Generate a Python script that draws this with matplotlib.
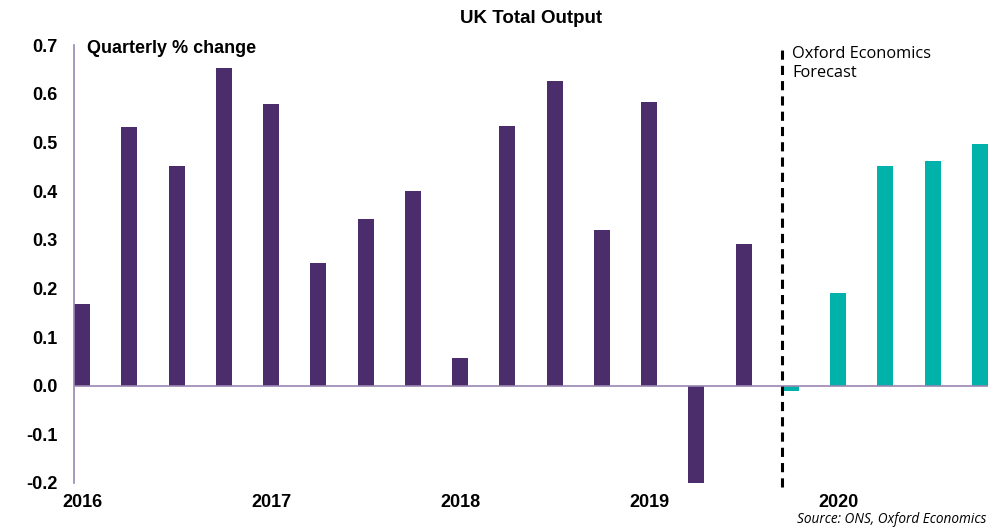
import matplotlib
matplotlib.use("Agg")
import matplotlib.pyplot as plt
import numpy as np

# Quarterly % change, 2016 Q1 - 2020 Q4
quarters = ["2016Q1", "2016Q2", "2016Q3", "2016Q4",
            "2017Q1", "2017Q2", "2017Q3", "2017Q4",
            "2018Q1", "2018Q2", "2018Q3", "2018Q4",
            "2019Q1", "2019Q2", "2019Q3", "2019Q4",
            "2020Q1", "2020Q2", "2020Q3", "2020Q4"]
values = [0.168, 0.532, 0.452, 0.652, 0.578, 0.252, 0.342, 0.400,
          0.056, 0.534, 0.626, 0.320, 0.582, -0.200, 0.291, -0.010,
          0.190, 0.452, 0.462, 0.496]
is_forecast = [False] * 15 + [True] * 5
year_labels = ["2016", "2017", "2018", "2019", "2020"]
year_positions = [0, 4, 8, 12, 16]

purple = "#4B2D6B"
teal = "#00B2A9"
spine_col = "#9A86B4"

fig = plt.figure(figsize=(10, 5.31), dpi=100)
ax = fig.add_axes([0.074, 0.0904, 0.914, 0.8248])

width = 0.34
x = np.arange(len(values))
colors = [teal if f else purple for f in is_forecast]
ax.bar(x, values, width=width, align="edge", color=colors, zorder=2)

ax.axhline(0, color=spine_col, lw=1.2, zorder=3)
ax.set_xlim(0, len(values) - 1 + width)
ax.set_ylim(-0.2, 0.7)

yt = np.arange(-0.2, 0.71, 0.1)
ax.set_yticks(yt)
ax.set_yticklabels([f"{v:.1f}" for v in yt], fontsize=13, fontweight="bold",
                   family="Liberation Sans")
ax.set_xticks([p + width / 2 for p in year_positions])
ax.set_xticklabels(year_labels, fontsize=13, fontweight="bold", family="Liberation Sans")
ax.tick_params(axis="both", length=0)
ax.tick_params(axis="y", pad=12)
ax.tick_params(axis="x", pad=8)

for s in ["top", "right", "bottom"]:
    ax.spines[s].set_visible(False)
ax.spines["left"].set_color(spine_col)
ax.spines["left"].set_linewidth(1.2)

# forecast divider
first_fc = is_forecast.index(True)
ax.plot([first_fc - 0.02, first_fc - 0.02], [-0.208, 0.703], color="black", lw=2.2,
        ls=(0, (3, 2)), clip_on=False, zorder=4)

ax.text(0.28, 0.692, "Quarterly % change", fontsize=13, fontweight="bold",
        family="Liberation Sans", va="center", ha="left")
ax.text(first_fc + 0.2, 0.699, "Oxford Economics\nForecast", fontsize=11.8,
        family="Open Sans", va="top", ha="left", linespacing=1.32)

fig.text(0.531, 0.966, "UK Total Output", fontsize=13.5, fontweight="bold",
         family="Liberation Sans", ha="center", va="center")
fig.text(0.986, 0.008, "Source: ONS, Oxford Economics", fontsize=9.8, style="italic",
         family="Open Sans", ha="right", va="bottom")

fig.savefig("out.png", dpi=100)
